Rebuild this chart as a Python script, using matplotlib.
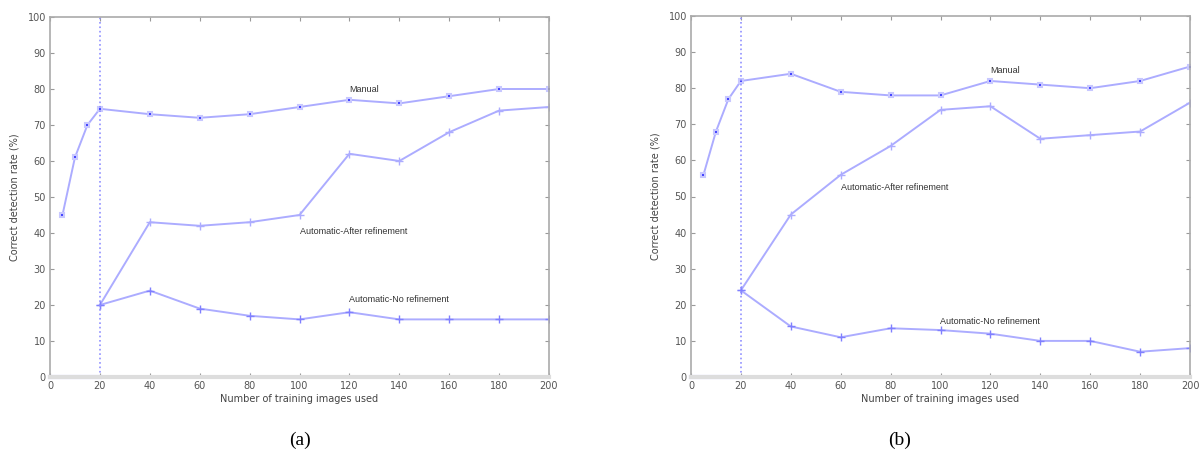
import matplotlib
matplotlib.use("Agg")
import matplotlib.pyplot as plt
import numpy as np

# (a)
xa_manual = [5, 10, 15, 20, 40, 60, 80, 100, 120, 140, 160, 180, 200]
ya_manual = [45, 61, 70, 74.5, 73, 72, 73, 75, 77, 76, 78, 80, 80]
xa_auto = [20, 40, 60, 80, 100, 120, 140, 160, 180, 200]
ya_after = [20, 43, 42, 43, 45, 62, 60, 68, 74, 75]
ya_noref = [20, 24, 19, 17, 16, 18, 16, 16, 16, 16]

# (b)
xb_manual = [5, 10, 15, 20, 40, 60, 80, 100, 120, 140, 160, 180, 200]
yb_manual = [56, 68, 77, 82, 84, 79, 78, 78, 82, 81, 80, 82, 86]
xb_auto = [20, 40, 60, 80, 100, 120, 140, 160, 180, 200]
yb_after = [24, 45, 56, 64, 74, 75, 66, 67, 68, 76]
yb_noref = [24, 14, 11, 13.5, 13, 12, 10, 10, 7, 8]

xticks = np.arange(0, 201, 20)
yticks = np.arange(0, 101, 10)

LINE = "#acacff"
MARK = "#3a3aff"
GRAY = "#555555"

# label positions (x, y) per panel
labels_a = [("Manual", 120, 80), ("Automatic-After refinement", 100, 40.5),
            ("Automatic-No refinement", 120, 21.5)]
labels_b = [("Manual", 120, 85), ("Automatic-After refinement", 60, 52.5),
            ("Automatic-No refinement", 100, 15.5)]


def panel(ax, xm, ym, xa, yafter, ynoref, labels):
    ax.plot(xm, ym, '-', color=LINE, lw=1.4, marker='s', ms=3.5,
            mfc=MARK, mec="#c8c8ff", mew=1.5)
    ax.plot(xa, yafter, '-', color=LINE, lw=1.4, marker='+', ms=6,
            mec=LINE, mew=1.0)
    ax.plot(xa, ynoref, '-', color=LINE, lw=1.4, marker='+', ms=6,
            mec="#8080ff", mew=1.0)
    # threshold line at 20 images
    ax.plot([20, 20], [0, 100], ':', color="#9090ff", lw=1.2)
    ax.plot([0, 20], [0, 0], '-', color="#c8c8ff", lw=3, clip_on=False)
    for txt, x, y in labels:
        ax.text(x, y, txt, fontsize=6.5, color="#333333", va='center',
                family="Liberation Sans", stretch='condensed')
    ax.set_xlim(0, 200)
    ax.set_ylim(0, 100)
    ax.set_xticks(xticks)
    ax.set_yticks(yticks)
    ax.tick_params(direction='in', length=3, width=0.8, color="#999999",
                   labelsize=7, labelcolor=GRAY, top=True, right=True, pad=3)
    for lab in ax.get_xticklabels() + ax.get_yticklabels():
        lab.set_family("Liberation Sans Narrow")
    for s in ax.spines.values():
        s.set_color("#aaaaaa")
        s.set_linewidth(1.2)
    ax.spines['bottom'].set_color("#dddddd")
    ax.spines['bottom'].set_linewidth(3)
    ax.set_xlabel("Number of training images used", fontsize=7, color="#444444",
                  family="Liberation Sans Narrow", labelpad=2)
    ax.set_ylabel("Correct detection rate (%)", fontsize=7, color="#444444",
                  family="Liberation Sans Narrow", labelpad=6)


fig = plt.figure(figsize=(12.02, 4.59), dpi=100)
ax1 = fig.add_axes([50 / 1202, 82 / 459, 499 / 1202, 360 / 459])
ax2 = fig.add_axes([691 / 1202, 82 / 459, 499 / 1202, 361 / 459])

panel(ax1, xa_manual, ya_manual, xa_auto, ya_after, ya_noref, labels_a)
panel(ax2, xb_manual, yb_manual, xb_auto, yb_after, yb_noref, labels_b)

fig.text(300 / 1202, 1 - 440 / 459, "(a)", ha='center', va='center',
         fontsize=14, family="Liberation Serif")
fig.text(900 / 1202, 1 - 440 / 459, "(b)", ha='center', va='center',
         fontsize=14, family="Liberation Serif")

fig.savefig("out.png", dpi=100)
